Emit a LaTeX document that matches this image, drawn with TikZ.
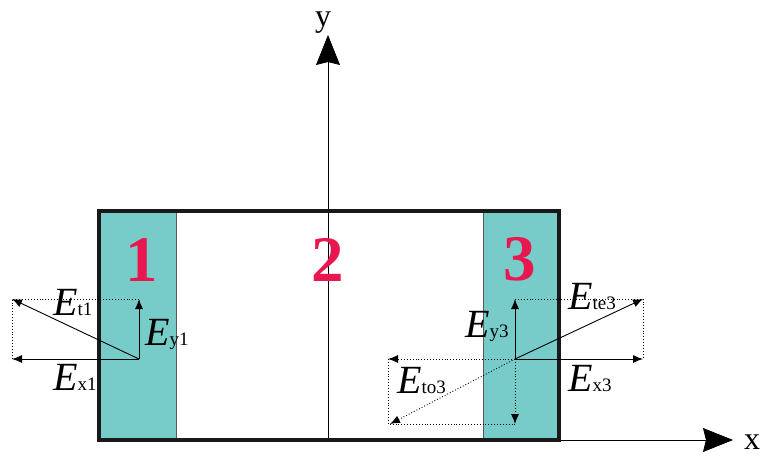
\documentclass[tikz,border=0pt]{standalone}
\usepackage{fontspec}
\setmainfont{Liberation Serif}
\usetikzlibrary{arrows.meta}
\definecolor{tealfill}{HTML}{77CCCA}
\definecolor{numred}{HTML}{E8174F}
\newcommand\Evec[2]{\fontsize{40}{40}\selectfont\textit{#1}\fontsize{19}{19}\selectfont #2}
\tikzset{
  vec/.style={line width=0.9pt,-{Latex[length=10pt,width=8pt]}},
  dvec/.style={line width=0.9pt,dotted,-{Latex[length=10pt,width=8pt]}},
  dline/.style={line width=0.9pt,dotted},
  axis/.style={line width=0.8pt,-{Stealth[length=30pt,width=24pt,inset=3pt]}},
  lab/.style={anchor=base west,inner sep=0pt},
  num/.style={text=numred,font=\fontsize{65}{65}\selectfont\bfseries,anchor=base,inner sep=0pt},
}
\begin{document}
\begin{tikzpicture}[x=1pt,y=-1pt]
\useasboundingbox (0,0) rectangle (764,460);
% shaded regions
\fill[tealfill] (99,211) rectangle (176,440);
\fill[tealfill] (483,211) rectangle (559,440);
\draw[gray!70!black,line width=0.8pt] (176,211) -- (176,440);
\draw[gray!70!black,line width=0.8pt] (483,211) -- (483,440);
% axes
\coordinate (O) at (328,440);
\coordinate (ytip) at (328,35);
\coordinate (xs) at (99,440);
\coordinate (xtip) at (733,440);
\draw[axis] (O) -- (ytip);
\draw[axis] (xs) -- (xtip);
\node[font=\fontsize{32}{32}\selectfont,anchor=base,inner sep=0pt] (ylab) at (323,27) {y};
\node[font=\fontsize{32}{32}\selectfont,anchor=base,inner sep=0pt] (xlab) at (752,449) {x};
% box
\draw[line width=3.8pt,black!90] (99,211) rectangle (559,440);
% numbers
\node[num] (n1) at (142,281) {1};
\node[num] (n2) at (328,281) {2};
\node[num] (n3) at (520,280) {3};
% region 1 vectors
\coordinate (o1) at (139,359);
\coordinate (x1) at (12,359);
\coordinate (y1) at (139,299);
\coordinate (t1) at (12,299);
\draw[dline] (y1) -- (t1) -- (x1);
\draw[vec] (o1) -- (x1);
\draw[vec] (o1) -- (y1);
\draw[vec] (o1) -- (t1);
\node[lab] (Lt1) at (53,315) {\Evec{E}{t1}};
\node[lab] (Ly1) at (145,345) {\Evec{E}{y1}};
\node[lab] (Lx1) at (53,390) {\Evec{E}{x1}};
% region 3 vectors
\coordinate (o3) at (515,359);
\coordinate (x3) at (643,359);
\coordinate (y3) at (515,299);
\coordinate (te3) at (643,299);
\coordinate (xo3) at (388,359);
\coordinate (yo3) at (515,424);
\coordinate (to3) at (390,424);
\draw[dline] (y3) -- (te3) -- (x3);
\draw[vec] (o3) -- (x3);
\draw[vec] (o3) -- (y3);
\draw[vec] (o3) -- (te3);
\draw[dline] (xo3) -- (388,424) -- (yo3);
\draw[dvec] (o3) -- (xo3);
\draw[dvec] (o3) -- (yo3);
\draw[dvec] (o3) -- (to3);
\node[lab] (Lte3) at (568,309) {\Evec{E}{te3}};
\node[lab] (Ly3) at (465,337) {\Evec{E}{y3}};
\node[lab] (Lx3) at (568,391) {\Evec{E}{x3}};
\node[lab] (Lto3) at (397,393) {\Evec{E}{to3}};
\end{tikzpicture}
\end{document}
